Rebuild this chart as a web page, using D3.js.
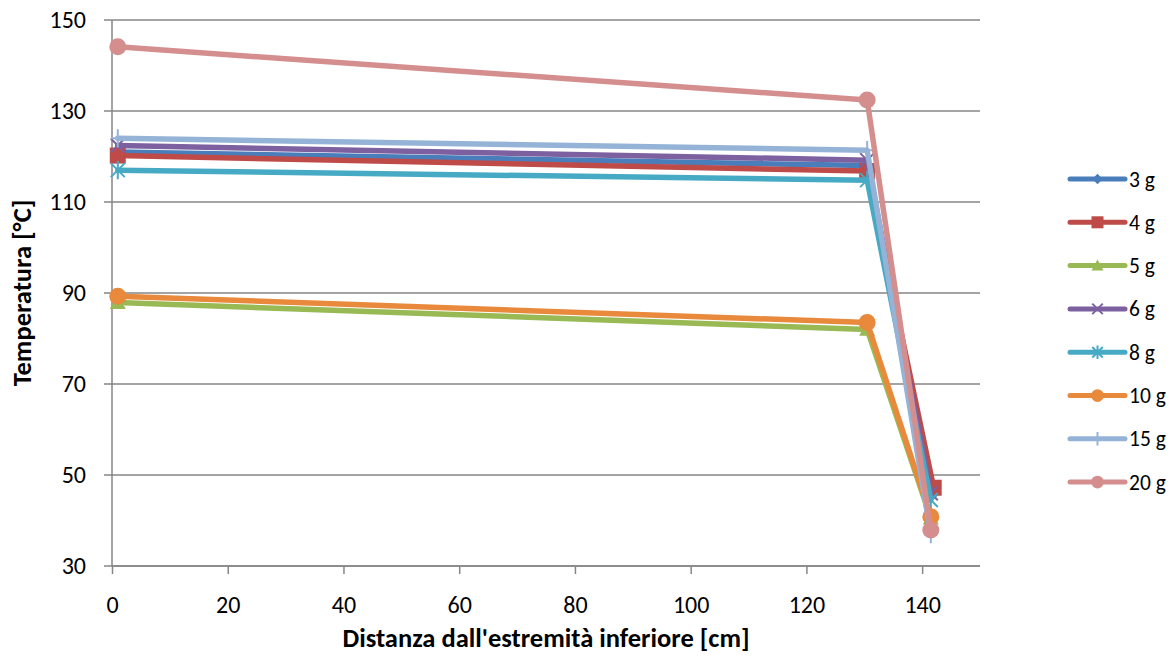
<!DOCTYPE html>
<html><head><meta charset="utf-8">
<script src="https://cdn.jsdelivr.net/npm/d3@7"></script>
<style>body{margin:0;background:#fff}svg{display:block}text{font-family:Carlito,Lato,"Liberation Sans",sans-serif;fill:#000}</style>
</head><body><svg id="c" width="1175" height="657"></svg>
<script>
const seriesNames = ["3 g","4 g","5 g","6 g","8 g","10 g","15 g","20 g"];
const xValues = [1, 130.5, 141.5];
const xValues4g = [1, 130.5, 142];
const v3g  = [121.0, 118.0, 45.5];
const v4g  = [120.2, 116.8, 47.2];
const v5g  = [87.9, 82.0, 40.5];
const v6g  = [122.4, 119.2, 46.0];
const v8g  = [117.0, 114.8, 44.5];
const v10g = [89.3, 83.5, 40.8];
const v15g = [124.0, 121.4, 37.0];
const v20g = [144.1, 132.4, 37.9];
const xTicks = [0,20,40,60,80,100,120,140];
const yTicks = [30,50,70,90,110,130,150];

const colors = ["#4A7EBB","#BE4B48","#98B954","#7D60A0","#46AAC5","#E8893B","#95B3D7","#D48E8E"];
const markers = ["diamond","square","triangle","x","star","circle","plus","circle"];
const values = [v3g,v4g,v5g,v6g,v8g,v10g,v15g,v20g];
const series = seriesNames.map((n,i)=>({name:n,color:colors[i],marker:markers[i],
  pts: values[i].map((v,j)=>({x:(i===1?xValues4g:xValues)[j], y:v}))}));

const svg = d3.select("#c");
const L=112, R=980, T=20, B=566;
const x = d3.scaleLinear().domain([0,150]).range([L,R]);
const y = d3.scaleLinear().domain([30,150]).range([B,T]);
const grid="#868686";

// gridlines
svg.append("g").selectAll("line").data(yTicks).join("line")
  .attr("x1",L-8).attr("x2",R).attr("y1",d=>y(d)).attr("y2",d=>y(d))
  .attr("stroke",grid).attr("stroke-width",1.5);
// axes lines
svg.append("line").attr("x1",x(0)).attr("x2",x(0)).attr("y1",T).attr("y2",B).attr("stroke",grid).attr("stroke-width",1.5);
const xa = svg.append("g").attr("transform",`translate(0,${B})`)
  .call(d3.axisBottom(x).tickValues(xTicks).tickSize(8).tickPadding(22));
xa.select(".domain").attr("stroke",grid).attr("stroke-width",1.5).attr("d",`M${L},0H${R}`);
xa.selectAll(".tick line").attr("stroke",grid).attr("stroke-width",1.5).attr("y2",8);
xa.selectAll("text").attr("font-size",24).attr("font-family",null);
const ya = svg.append("g").attr("transform",`translate(${L-8},0)`)
  .call(d3.axisLeft(y).tickValues(yTicks).tickSize(0).tickPadding(18));
ya.select(".domain").remove();
ya.selectAll("text").attr("font-size",24).attr("font-family",null);

// axis titles
svg.append("text").attr("x",(L+R)/2).attr("y",647).attr("text-anchor","middle")
  .attr("font-size",26.5).attr("font-weight","bold").text("Distanza dall'estremità inferiore [cm]");
svg.append("text").attr("transform",`translate(31,${(T+B)/2}) rotate(-90)`).attr("text-anchor","middle")
  .attr("font-size",26.5).attr("font-weight","bold").text("Temperatura [°C]");

function drawMarker(g, type, color, cx, cy, s){
  const m = g.append("g").attr("transform",`translate(${cx},${cy})`);
  if(type==="circle") m.append("circle").attr("r",s).attr("fill",color);
  else if(type==="square") m.append("rect").attr("x",-s).attr("y",-s).attr("width",2*s).attr("height",2*s).attr("fill",color);
  else if(type==="diamond") m.append("path").attr("d",`M0,${-s}L${s},0L0,${s}L${-s},0Z`).attr("fill",color);
  else if(type==="triangle") m.append("path").attr("d",`M0,${-s}L${s},${s*0.8}L${-s},${s*0.8}Z`).attr("fill",color);
  else if(type==="x") m.append("path").attr("d",`M${-s},${-s}L${s},${s}M${-s},${s}L${s},${-s}`).attr("stroke",color).attr("stroke-width",2);
  else if(type==="star") m.append("path").attr("d",`M${-s},${-s}L${s},${s}M${-s},${s}L${s},${-s}M0,${-s*1.3}L0,${s*1.3}`).attr("stroke",color).attr("stroke-width",2);
  else if(type==="plus") m.append("path").attr("d",`M${-s},0L${s},0M0,${-s*1.3}L0,${s*1.3}`).attr("stroke",color).attr("stroke-width",2);
}
const msize = {circle:8.5,square:8,diamond:7,triangle:8,x:7,star:7,plus:7};

const line = d3.line().x(d=>x(d.x)).y(d=>y(d.y));
const plot = svg.append("g");
series.forEach(s=>{
  const g = plot.append("g");
  g.append("path").attr("d",line(s.pts)).attr("fill","none").attr("stroke",s.color)
    .attr("stroke-width",5.5).attr("stroke-linejoin","round").attr("stroke-linecap","round");
  s.pts.forEach(p=>drawMarker(g,s.marker,s.color,x(p.x),y(p.y),msize[s.marker]));
});

// legend
const lg = svg.append("g");
series.forEach((s,i)=>{
  const cy = 179 + i*43.3;
  const g = lg.append("g");
  g.append("line").attr("x1",1070).attr("x2",1125).attr("y1",cy).attr("y2",cy)
    .attr("stroke",s.color).attr("stroke-width",5).attr("stroke-linecap","round");
  drawMarker(g,s.marker,s.color,1097.5,cy,msize[s.marker]*0.75);
  g.append("text").attr("x",1129).attr("y",cy+7.5).attr("font-size",21.5).text(s.name);
});
</script></body></html>
